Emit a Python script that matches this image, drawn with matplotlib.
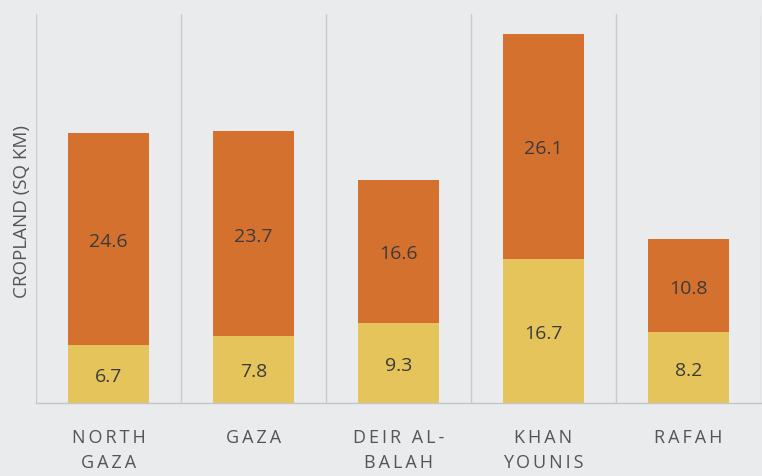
import numpy as np
import matplotlib.pyplot as plt

# cropland per governorate (sq km)
districts = ["NORTH\nGAZA", "GAZA", "DEIR AL-\nBALAH", "KHAN\nYOUNIS", "RAFAH"]
lower_vals = [6.7, 7.8, 9.3, 16.7, 8.2]
upper_vals = [24.6, 23.7, 16.6, 26.1, 10.8]

bg = "#e9ebec"
yellow = "#e5c55b"
orange = "#d5712f"
txt = "#3b3b3b"

plt.rcParams["font.family"] = ["Open Sans", "DejaVu Sans"]

fig = plt.figure(figsize=(7.62, 4.77), dpi=100, facecolor=bg)
ax = fig.add_axes([36 / 762, 73 / 477, 725 / 762, 389 / 477])
ax.set_facecolor(bg)

x = np.arange(len(districts))
lower = np.array(lower_vals)
upper = np.array(upper_vals)

ax.bar(x, lower, width=0.56, color=yellow, zorder=2)
ax.bar(x, upper, width=0.56, bottom=lower, color=orange, zorder=2)

for i in range(len(x)):
    ax.text(x[i], lower[i] / 2, f"{lower[i]:.1f}", ha="center", va="center_baseline",
            fontsize=14, color=txt, zorder=3)
    ax.text(x[i], lower[i] + upper[i] / 2, f"{upper[i]:.1f}", ha="center",
            va="center_baseline", fontsize=14, color=txt, zorder=3)

# category separators
for b in np.arange(-0.5, len(x), 1.0):
    ax.axvline(b, color="#c9cbcd", lw=1, zorder=1)

ax.set_xlim(-0.5, len(x) - 0.5)
ax.set_ylim(0, 45.1)

spaced = ["\n".join("\u2009".join(w) for w in d.split("\n")) for d in districts]
ax.set_xticks(x)
ax.set_xticklabels(spaced, fontsize=13, color="#555555", linespacing=1.5)
ax.tick_params(axis="x", length=0, pad=18)
ax.set_yticks([])

for s in ["top", "right", "left"]:
    ax.spines[s].set_visible(False)
ax.spines["bottom"].set_color("#c4c6c8")
ax.spines["bottom"].set_linewidth(1)

fig.text(22 / 762, 1 - 211 / 477, "CROPLAND (SQ KM)", rotation=90,
         ha="center", va="center", fontsize=13.5, color="#555555")

fig.savefig("out.png", dpi=100, facecolor=bg)
